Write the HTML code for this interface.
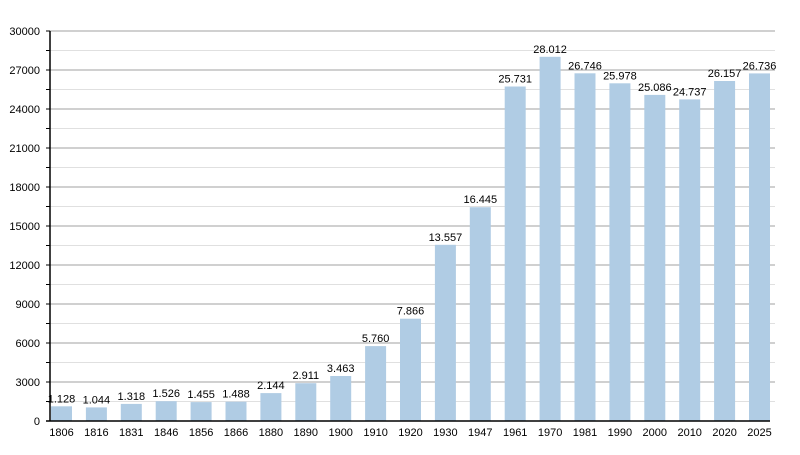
<!DOCTYPE html><html><head><style>body{margin:0;background:#fff}</style></head><body>
<svg width="800" height="450" xmlns="http://www.w3.org/2000/svg" font-family="Liberation Sans, sans-serif" font-size="11" fill="#000">
<g stroke="#e0e0e0">
<line x1="50" x2="775" y1="401.5" y2="401.5"/><line x1="50" x2="775" y1="362.5" y2="362.5"/><line x1="50" x2="775" y1="323.5" y2="323.5"/><line x1="50" x2="775" y1="284.5" y2="284.5"/><line x1="50" x2="775" y1="245.5" y2="245.5"/><line x1="50" x2="775" y1="206.5" y2="206.5"/><line x1="50" x2="775" y1="167.5" y2="167.5"/><line x1="50" x2="775" y1="128.5" y2="128.5"/><line x1="50" x2="775" y1="89.5" y2="89.5"/><line x1="50" x2="775" y1="50.5" y2="50.5"/>
</g>
<g stroke="#a0a0a0">
<line x1="50" x2="775" y1="382" y2="382"/><line x1="50" x2="775" y1="343" y2="343"/><line x1="50" x2="775" y1="304" y2="304"/><line x1="50" x2="775" y1="265" y2="265"/><line x1="50" x2="775" y1="226" y2="226"/><line x1="50" x2="775" y1="187" y2="187"/><line x1="50" x2="775" y1="148" y2="148"/><line x1="50" x2="775" y1="109" y2="109"/><line x1="50" x2="775" y1="70" y2="70"/><line x1="50" x2="775" y1="31" y2="31"/>
</g>
<g stroke="#000">
<line x1="46" x2="50" y1="401.5" y2="401.5"/><line x1="46" x2="50" y1="382" y2="382"/><line x1="46" x2="50" y1="362.5" y2="362.5"/><line x1="46" x2="50" y1="343" y2="343"/><line x1="46" x2="50" y1="323.5" y2="323.5"/><line x1="46" x2="50" y1="304" y2="304"/><line x1="46" x2="50" y1="284.5" y2="284.5"/><line x1="46" x2="50" y1="265" y2="265"/><line x1="46" x2="50" y1="245.5" y2="245.5"/><line x1="46" x2="50" y1="226" y2="226"/><line x1="46" x2="50" y1="206.5" y2="206.5"/><line x1="46" x2="50" y1="187" y2="187"/><line x1="46" x2="50" y1="167.5" y2="167.5"/><line x1="46" x2="50" y1="148" y2="148"/><line x1="46" x2="50" y1="128.5" y2="128.5"/><line x1="46" x2="50" y1="109" y2="109"/><line x1="46" x2="50" y1="89.5" y2="89.5"/><line x1="46" x2="50" y1="70" y2="70"/><line x1="46" x2="50" y1="50.5" y2="50.5"/><line x1="46" x2="50" y1="31" y2="31"/>
</g>
<g text-anchor="end">
<text x="40" y="425">0</text><text x="40" y="386">3000</text><text x="40" y="347">6000</text><text x="40" y="308">9000</text><text x="40" y="269">12000</text><text x="40" y="230">15000</text><text x="40" y="191">18000</text><text x="40" y="152">21000</text><text x="40" y="113">24000</text><text x="40" y="74">27000</text><text x="40" y="35">30000</text>
</g>
<g fill="#b0cce4">
<rect x="51" y="406.3" width="21" height="14.7"/>
<rect x="85.9" y="407.4" width="21" height="13.6"/>
<rect x="120.8" y="403.9" width="21" height="17.1"/>
<rect x="155.7" y="401.2" width="21" height="19.8"/>
<rect x="190.6" y="402.1" width="21" height="18.9"/>
<rect x="225.5" y="401.7" width="21" height="19.3"/>
<rect x="260.4" y="393.1" width="21" height="27.9"/>
<rect x="295.3" y="383.2" width="21" height="37.8"/>
<rect x="330.2" y="376" width="21" height="45"/>
<rect x="365.1" y="346.1" width="21" height="74.9"/>
<rect x="400" y="318.7" width="21" height="102.3"/>
<rect x="434.9" y="244.8" width="21" height="176.2"/>
<rect x="469.8" y="207.2" width="21" height="213.8"/>
<rect x="504.7" y="86.5" width="21" height="334.5"/>
<rect x="539.6" y="56.8" width="21" height="364.2"/>
<rect x="574.5" y="73.3" width="21" height="347.7"/>
<rect x="609.4" y="83.3" width="21" height="337.7"/>
<rect x="644.3" y="94.9" width="21" height="326.1"/>
<rect x="679.2" y="99.4" width="21" height="321.6"/>
<rect x="714.1" y="81" width="21" height="340"/>
<rect x="749" y="73.4" width="21" height="347.6"/>
</g>
<g text-anchor="middle">
<text x="61.5" y="402.3">1.128</text>
<text x="96.4" y="403.4">1.044</text>
<text x="131.3" y="399.9">1.318</text>
<text x="166.2" y="397.2">1.526</text>
<text x="201.1" y="398.1">1.455</text>
<text x="236" y="397.7">1.488</text>
<text x="270.9" y="389.1">2.144</text>
<text x="305.8" y="379.2">2.911</text>
<text x="340.7" y="372">3.463</text>
<text x="375.6" y="342.1">5.760</text>
<text x="410.5" y="314.7">7.866</text>
<text x="445.4" y="240.8">13.557</text>
<text x="480.3" y="203.2">16.445</text>
<text x="515.2" y="82.5">25.731</text>
<text x="550.1" y="52.8">28.012</text>
<text x="585" y="69.3">26.746</text>
<text x="619.9" y="79.3">25.978</text>
<text x="654.8" y="90.9">25.086</text>
<text x="689.7" y="95.4">24.737</text>
<text x="724.6" y="77">26.157</text>
<text x="759.5" y="69.4">26.736</text>
</g>
<g text-anchor="middle">
<text x="61.5" y="436">1806</text><text x="96.4" y="436">1816</text><text x="131.3" y="436">1831</text><text x="166.2" y="436">1846</text><text x="201.1" y="436">1856</text><text x="236" y="436">1866</text><text x="270.9" y="436">1880</text><text x="305.8" y="436">1890</text><text x="340.7" y="436">1900</text><text x="375.6" y="436">1910</text><text x="410.5" y="436">1920</text><text x="445.4" y="436">1930</text><text x="480.3" y="436">1947</text><text x="515.2" y="436">1961</text><text x="550.1" y="436">1970</text><text x="585" y="436">1981</text><text x="619.9" y="436">1990</text><text x="654.8" y="436">2000</text><text x="689.7" y="436">2010</text><text x="724.6" y="436">2020</text><text x="759.5" y="436">2025</text>
</g>
<line x1="50" x2="50" y1="31" y2="421" stroke="#000" stroke-width="1.5"/>
<line x1="46" x2="770" y1="421" y2="421" stroke="#000" stroke-width="1.5"/>
</svg></body></html>
